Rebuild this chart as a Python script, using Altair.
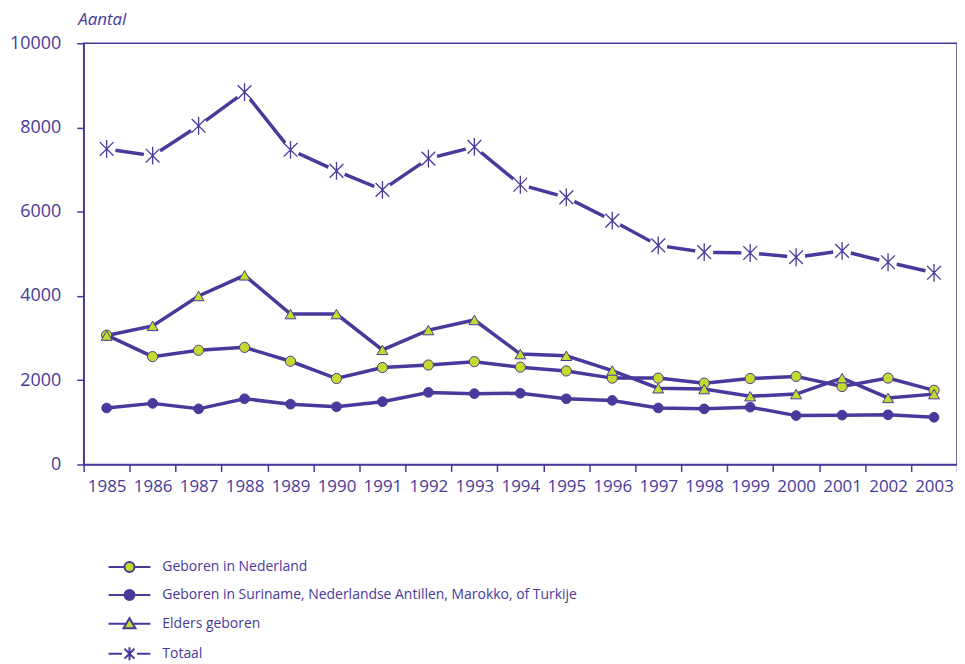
import altair as alt
import pandas as pd

PURPLE = "#48399a"
GREEN = "#c6d92e"
FONT = "Open Sans"

years = [str(y) for y in range(1985, 2004)]
series = [
    "Geboren in Nederland",
    "Geboren in Suriname, Nederlandse Antillen, Marokko, of Turkije",
    "Elders geboren",
    "Totaal",
]
nederland = [3070, 2560, 2710, 2780, 2450, 2040, 2300, 2360, 2440, 2310,
             2220, 2050, 2050, 1930, 2040, 2090, 1850, 2050, 1760]
suriname = [1340, 1450, 1320, 1560, 1430, 1370, 1490, 1710, 1680, 1690,
            1560, 1520, 1340, 1320, 1360, 1160, 1170, 1180, 1120]
elders = [3060, 3290, 4000, 4490, 3570, 3570, 2720, 3190, 3430, 2620,
          2580, 2230, 1810, 1790, 1620, 1670, 2050, 1580, 1670]
totaal = [7490, 7330, 8040, 8840, 7470, 6970, 6520, 7260, 7540, 6640,
          6340, 5790, 5200, 5040, 5020, 4920, 5070, 4800, 4550]
y_ticks = [0, 2000, 4000, 6000, 8000, 10000]

rows = []
for name, vals in zip(series, [nederland, suriname, elders, totaal]):
    for yr, v in zip(years, vals):
        rows.append({"series": name, "year": yr, "value": v})
df = pd.DataFrame(rows)

ASTER = "M-1,-1L1,1M-1,1L1,-1M0,-1.3V1.3"
legend_paths = [
    "M-4.2,0H-1M1,0H4.2M1,0A1,1,0,1,1,-1,0A1,1,0,1,1,1,0Z",
    "M-4.2,0H-1M1,0H4.2M1,0A1,1,0,1,1,-1,0A1,1,0,1,1,1,0Z",
    "M-4.2,0H-0.66M0.66,0H4.2M0,-1.1L1.2,0.9L-1.2,0.9Z",
    "M-4.2,0H-1.5M1.5,0H4.2M-1,-1L1,1M-1,1L1,-1M0,-1.3V1.3",
]
legend_fills = [GREEN, PURPLE, GREEN, "transparent"]
legend_strokes = [PURPLE, PURPLE, PURPLE, PURPLE]

x_enc = alt.X(
    "year:O",
    sort=years,
    scale=alt.Scale(type="band", paddingInner=0, paddingOuter=0),
    axis=alt.Axis(
        title=None, tickBand="extent", labelAngle=0, labelOverlap=False,
        labelFont=FONT, labelFontSize=17, labelColor=PURPLE, labelPadding=7,
        tickColor=PURPLE, tickSize=7, tickWidth=1.5,
        domainColor=PURPLE, domainWidth=1.5, grid=False,
    ),
)
y_enc = alt.Y(
    "value:Q",
    scale=alt.Scale(domain=[0, 10000]),
    axis=alt.Axis(
        values=y_ticks, format="d", grid=False,
        labelFont=FONT, labelFontSize=18, labelColor=PURPLE, labelPadding=16,
        tickColor=PURPLE, tickSize=7, tickWidth=1.5,
        domainColor=PURPLE, domainWidth=1.5,
        title="Aantal", titleAngle=0, titleFont=FONT, titleFontSize=17,
        titleFontStyle="italic", titleFontWeight="normal", titleColor=PURPLE,
        titleX=-6, titleY=-24, titleAlign="left", titleBaseline="middle",
    ),
)

base = alt.Chart(df)

lines = base.mark_line(color=PURPLE, strokeWidth=3.5).encode(
    x=x_enc, y=y_enc, detail="series:N"
)

def pts(name, **kw):
    return base.transform_filter(alt.datum.series == name).mark_point(**kw).encode(
        x=x_enc, y=y_enc
    )

halo = pts(series[3], shape="circle", filled=True, fill="white", color="white",
           size=330, opacity=1, strokeWidth=0)
p_tot = pts(series[3], shape=ASTER, filled=False, color=PURPLE, size=190,
            strokeWidth=1.3, opacity=1)
p_sur = pts(series[1], shape="circle", filled=True, fill=PURPLE, color=PURPLE,
            stroke=PURPLE, strokeWidth=1, size=95, opacity=1)
p_ned = pts(series[0], shape="circle", filled=True, fill=GREEN, color=GREEN,
            stroke=PURPLE, strokeWidth=1, size=105, opacity=1)
p_eld = pts(series[2], shape="triangle-up", filled=True, fill=GREEN, color=GREEN,
            stroke=PURPLE, strokeWidth=1, size=120, opacity=1)

leg = dict(
    orient="none", legendX=39, legendY=519, title=None, direction="vertical",
    labelFont=FONT, labelFontSize=14, labelColor=PURPLE, labelLimit=600,
    symbolSize=100, labelOffset=26, rowPadding=10,
    symbolStrokeColor=PURPLE, symbolStrokeWidth=2, symbolOpacity=1,
)
legend_layer = base.transform_filter("datum.value < 0").mark_point(
    filled=True, strokeWidth=2, opacity=1
).encode(
    x=x_enc, y=y_enc,
    shape=alt.Shape("series:N", scale=alt.Scale(domain=series, range=legend_paths),
                    legend=alt.Legend(**leg)),
    fill=alt.Fill("series:N", scale=alt.Scale(domain=series, range=legend_fills),
                  legend=alt.Legend(**leg)),
    stroke=alt.Stroke("series:N", scale=alt.Scale(domain=series, range=legend_strokes),
                      legend=alt.Legend(**leg)),
)

chart = alt.layer(lines, halo, p_tot, p_sur, p_ned, p_eld, legend_layer).properties(
    width=877, height=423,
    autosize=alt.AutoSizeParams(type="none"),
    padding={"left": 76, "top": 34, "right": 0, "bottom": 198},
).configure_view(stroke=PURPLE, strokeWidth=1.5)

chart.save("out.html", embed_options={"renderer": "svg", "actions": False})
